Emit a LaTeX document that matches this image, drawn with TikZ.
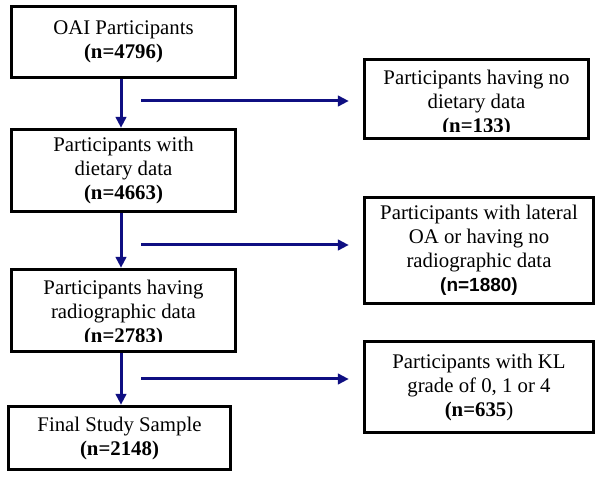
\documentclass[tikz,border=0pt]{standalone}
\usepackage{fontspec}
\setmainfont{Liberation Serif}
\newfontfamily\arialfont{Liberation Sans}
\usetikzlibrary{arrows.meta}
\definecolor{navy}{RGB}{15,15,130}
\begin{document}
\begin{tikzpicture}[x=1pt,y=-1pt,
  box/.style={draw=black,line width=3.4pt,rectangle,inner sep=0pt,align=center,font=\fontsize{20.8}{24}\selectfont},
  txt/.style={inner sep=0pt,align=center,font=\fontsize{20.8}{24}\selectfont},
  flow/.style={draw=navy,line width=3pt,-{Triangle[length=11pt,width=10.5pt]}}]
\useasboundingbox[fill=white] (0,0) rectangle (600,478);

% left column
\node[box,minimum width=224pt,minimum height=71pt] (b1) at (123.5,42) {OAI Participants\\\textbf{(n=4796)}};
\node[box,minimum width=224pt,minimum height=82pt] (b2) at (123.5,170.5) {Participants with\\dietary data\\\textbf{(n=4663)}};
\node[box,minimum width=224pt,minimum height=82pt] (b3) at (123.5,310.5) {};
\begin{scope}
  \clip (12,270) rectangle (235,342);
  \node[txt] (t3) at (123.5,313.5) {Participants having\\radiographic data\\\textbf{(n=2783)}};
\end{scope}
\node[box,minimum width=222pt,minimum height=63pt] (b4) at (119.5,438) {Final Study Sample\\\textbf{(n=2148)}};

% right column
\node[box,minimum width=224pt,minimum height=79pt] (r1) at (476.5,99) {};
\begin{scope}
  \clip (365,60) rectangle (589,132);
  \node[txt] (tr1) at (476.5,103.5) {Participants having no\\dietary data\\\textbf{(n=133)}};
\end{scope}
\node[box,minimum width=229pt,minimum height=106pt] (r2) at (479,250.5) {Participants with lateral\\OA or having no\\radiographic data\\{\arialfont\fontsize{19}{24}\selectfont\bfseries (n=1880)}};
\node[box,minimum width=229pt,minimum height=91pt] (r3) at (479,387) {Participants with KL\\grade of 0, 1 or 4\\\textbf{(n=635})};

% connectors
\coordinate (ax) at (121,0);
\draw[flow] (b1.south -| ax) -- (b2.north -| ax);
\draw[flow] (b2.south -| ax) -- (b3.north -| ax);
\draw[flow] (b3.south -| ax) -- (b4.north -| ax);

\coordinate (h1) at (141,101);
\coordinate (h2) at (141,245);
\coordinate (h3) at (141,379);
\draw[flow,shorten >=14pt] (h1) -- (r1.west |- h1);
\draw[flow,shorten >=14pt] (h2) -- (r2.west |- h2);
\draw[flow,shorten >=14pt] (h3) -- (r3.west |- h3);
\end{tikzpicture}
\end{document}
